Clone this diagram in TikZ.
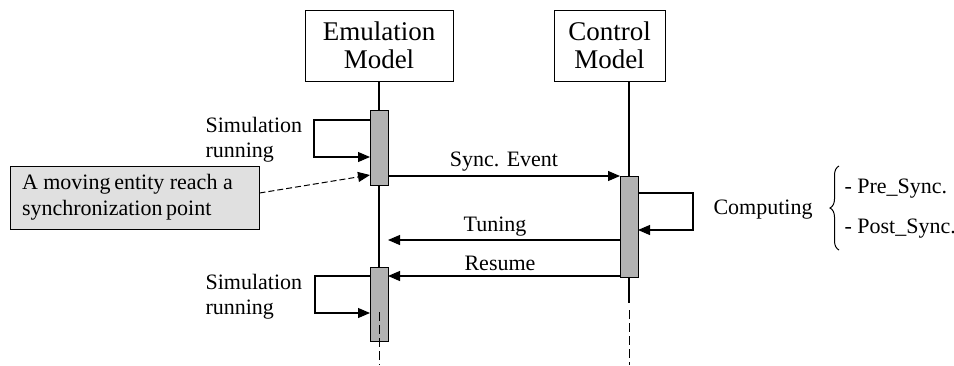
\documentclass[tikz,border=0pt]{standalone}
\usepackage{fontspec}
\setmainfont{Liberation Serif}
\usetikzlibrary{arrows.meta,decorations.pathreplacing}
\begin{document}
\begin{tikzpicture}[x=1pt,y=-1pt,
  line width=1.1pt,
  tip/.style={-{Triangle[length=12pt,width=10pt]}},
  title/.style={draw,line width=1pt,minimum width=148pt,minimum height=71pt,align=center,inner sep=0pt,font=\fontsize{27}{31}\selectfont},
  act/.style={draw,line width=1pt,fill=black!30,minimum width=18pt,inner sep=0pt},
  lbl/.style={font=\fontsize{22}{25}\selectfont,inner sep=0pt},
  life/.style={line width=1pt,dash pattern=on 9pt off 4pt},
  note/.style={draw,line width=1pt,fill=black!12,minimum width=249pt,minimum height=63pt,inner sep=0pt,font=\fontsize{22}{26}\selectfont,align=flush left,text width=225pt}]
\useasboundingbox (0,0) rectangle (954,365);
% heads
\node[title] (em) at (379,45.5) {Emulation\\[-3pt]Model};
\node[title,minimum width=111pt] (cm) at (609.5,45.5) {Control\\[-3pt]Model};
% activations
\node[act,minimum height=75pt] (a1) at (379,147.5) {};
\node[act,minimum height=101pt] (a2) at (629,226.5) {};
\node[act,minimum height=74pt] (a3) at (379,304) {};
% lifelines
\draw (em.south) -- (a1.north);
\draw (a1.south) -- (a3.north);
\draw (cm.south -| a2.north) -- (a2.north);
\draw (a2.south) -- (629,303);
\draw[life] (379,312) -- (379,365);
\draw[life] (629,310) -- (629,365);
% simulation loop 1
\coordinate (l1a) at (370,120);
\coordinate (l1b) at (370,157);
\draw[tip] (l1a) -- (314,120) -- (314,157) -- (l1b);
\node[lbl,align=left,anchor=west] (s1) at (205,140) {Simulation\\running};
% note
\node[note] (nt) at (134.5,197.5) {A moving\,entity reach a\\synchronization\,point};
\coordinate (na) at (370,175);
\draw[tip,line width=1pt,dash pattern=on 6pt off 3pt] (nt.east |- 0,193) -- (na);
% messages
\coordinate (se1) at (388,176);
\coordinate (se2) at (620,176);
\draw[tip] (se1) -- (se2) node[lbl,midway,above=4pt] (sel) {Sync. Event};
\coordinate (t1) at (620,240);
\coordinate (t2) at (388,240);
\draw[tip] (t1) -- (t2);
\node[lbl] (tl) at (495,227) {Tuning};
\coordinate (r1) at (620,276);
\coordinate (r2) at (388,276);
\draw[tip] (r1) -- (r2);
\node[lbl] (rl) at (500,263) {Resume};
% computing loop
\coordinate (c1) at (638,193);
\coordinate (c2) at (638,230);
\draw[tip] (c1) -- (693,193) -- (693,230) -- (c2);
\node[lbl,anchor=west] (cp) at (713,210) {Computing};
\draw[line width=1pt,decorate,decoration={brace,amplitude=9pt}] (839,250) -- (839,166);
\node[lbl,anchor=west] (pre) at (844,189) {- Pre\_Sync.};
\node[lbl,anchor=west] (post) at (844,229) {- Post\_Sync.};
% simulation loop 2
\coordinate (l2a) at (370,276);
\coordinate (l2b) at (370,313);
\draw[tip] (l2a) -- (315,276) -- (315,313) -- (l2b);
\node[lbl,align=left,anchor=west] (s2) at (205,297) {Simulation\\running};
\draw[life] (379,312) -- (379,340);
\end{tikzpicture}
\end{document}
